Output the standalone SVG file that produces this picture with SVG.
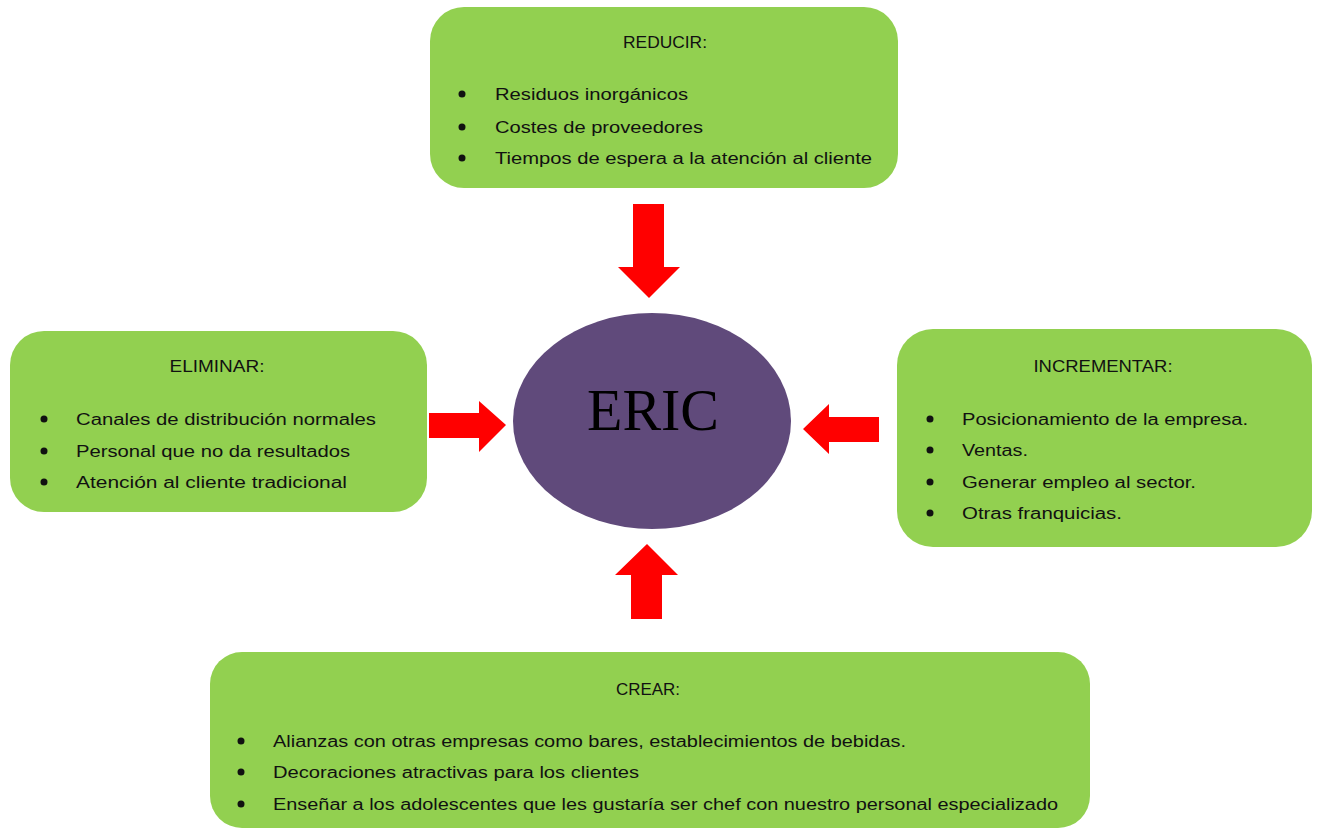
<svg xmlns="http://www.w3.org/2000/svg" width="1319" height="829" viewBox="0 0 1319 829">
<style>
.box{fill:#92D050;}
.t{font-family:"Liberation Sans",Arial,sans-serif;font-size:16px;fill:#111;}
.h{text-anchor:middle;}
.b{fill:#111;}
.arr{fill:#FF0000;}
</style>
<rect width="1319" height="829" fill="#ffffff"/>
<g id="reducir">
<rect class="box" x="430" y="7" width="468" height="181" rx="34"/>
<text class="t h" x="665" y="48" textLength="84" lengthAdjust="spacingAndGlyphs">REDUCIR:</text>
<circle class="b" cx="462" cy="94" r="3.5"/><text class="t" x="495" y="100" textLength="193" lengthAdjust="spacingAndGlyphs">Residuos inorgánicos</text>
<circle class="b" cx="462" cy="127" r="3.5"/><text class="t" x="495" y="133" textLength="208" lengthAdjust="spacingAndGlyphs">Costes de proveedores</text>
<circle class="b" cx="462" cy="158" r="3.5"/><text class="t" x="495" y="164" textLength="377" lengthAdjust="spacingAndGlyphs">Tiempos de espera a la atención al cliente</text>
</g>
<g id="eliminar">
<rect class="box" x="10" y="331" width="417" height="181" rx="34"/>
<text class="t h" x="217" y="372" textLength="95" lengthAdjust="spacingAndGlyphs">ELIMINAR:</text>
<circle class="b" cx="44" cy="419" r="3.5"/><text class="t" x="76" y="425" textLength="300" lengthAdjust="spacingAndGlyphs">Canales de distribución normales</text>
<circle class="b" cx="44" cy="451" r="3.5"/><text class="t" x="76" y="457" textLength="274" lengthAdjust="spacingAndGlyphs">Personal que no da resultados</text>
<circle class="b" cx="44" cy="482" r="3.5"/><text class="t" x="76" y="488" textLength="271" lengthAdjust="spacingAndGlyphs">Atención al cliente tradicional</text>
</g>
<g id="incrementar">
<rect class="box" x="897" y="329" width="415" height="218" rx="36"/>
<text class="t h" x="1103" y="372" textLength="139" lengthAdjust="spacingAndGlyphs">INCREMENTAR:</text>
<circle class="b" cx="930" cy="419" r="3.5"/><text class="t" x="962" y="425" textLength="286" lengthAdjust="spacingAndGlyphs">Posicionamiento de la empresa.</text>
<circle class="b" cx="930" cy="450" r="3.5"/><text class="t" x="962" y="456" textLength="66" lengthAdjust="spacingAndGlyphs">Ventas.</text>
<circle class="b" cx="930" cy="482" r="3.5"/><text class="t" x="962" y="488" textLength="234" lengthAdjust="spacingAndGlyphs">Generar empleo al sector.</text>
<circle class="b" cx="930" cy="513" r="3.5"/><text class="t" x="962" y="519" textLength="160" lengthAdjust="spacingAndGlyphs">Otras franquicias.</text>
</g>
<g id="crear">
<rect class="box" x="210" y="652" width="880" height="176" rx="32"/>
<text class="t h" x="648" y="695" textLength="64" lengthAdjust="spacingAndGlyphs">CREAR:</text>
<circle class="b" cx="241" cy="741" r="3.5"/><text class="t" x="273" y="747" textLength="633" lengthAdjust="spacingAndGlyphs">Alianzas con otras empresas como bares, establecimientos de bebidas.</text>
<circle class="b" cx="241" cy="772" r="3.5"/><text class="t" x="273" y="778" textLength="366" lengthAdjust="spacingAndGlyphs">Decoraciones atractivas para los clientes</text>
<circle class="b" cx="241" cy="804" r="3.5"/><text class="t" x="273" y="810" textLength="785" lengthAdjust="spacingAndGlyphs">Enseñar a los adolescentes que les gustaría  ser chef con nuestro personal especializado</text>
</g>
<g id="eric">
<ellipse cx="652" cy="421" rx="139" ry="108" fill="#604A7B"/>
<text x="653" y="430" text-anchor="middle" font-family="'Liberation Serif','Times New Roman',serif" font-size="60" fill="#000" textLength="132" lengthAdjust="spacingAndGlyphs">ERIC</text>
</g>
<g id="connectors">
<polygon class="arr" points="633,204 664,204 664,267 680,267 649,298 618,267 633,267"/>
<polygon class="arr" points="429,413 479,413 479,401 506,425 479,452 479,438 429,438"/>
<polygon class="arr" points="879,417 829,417 829,404 803,429 829,454 829,442 879,442"/>
<polygon class="arr" points="631,619 662,619 662,575 678,575 647,544 615,575 631,575"/>
</g>
</svg>
